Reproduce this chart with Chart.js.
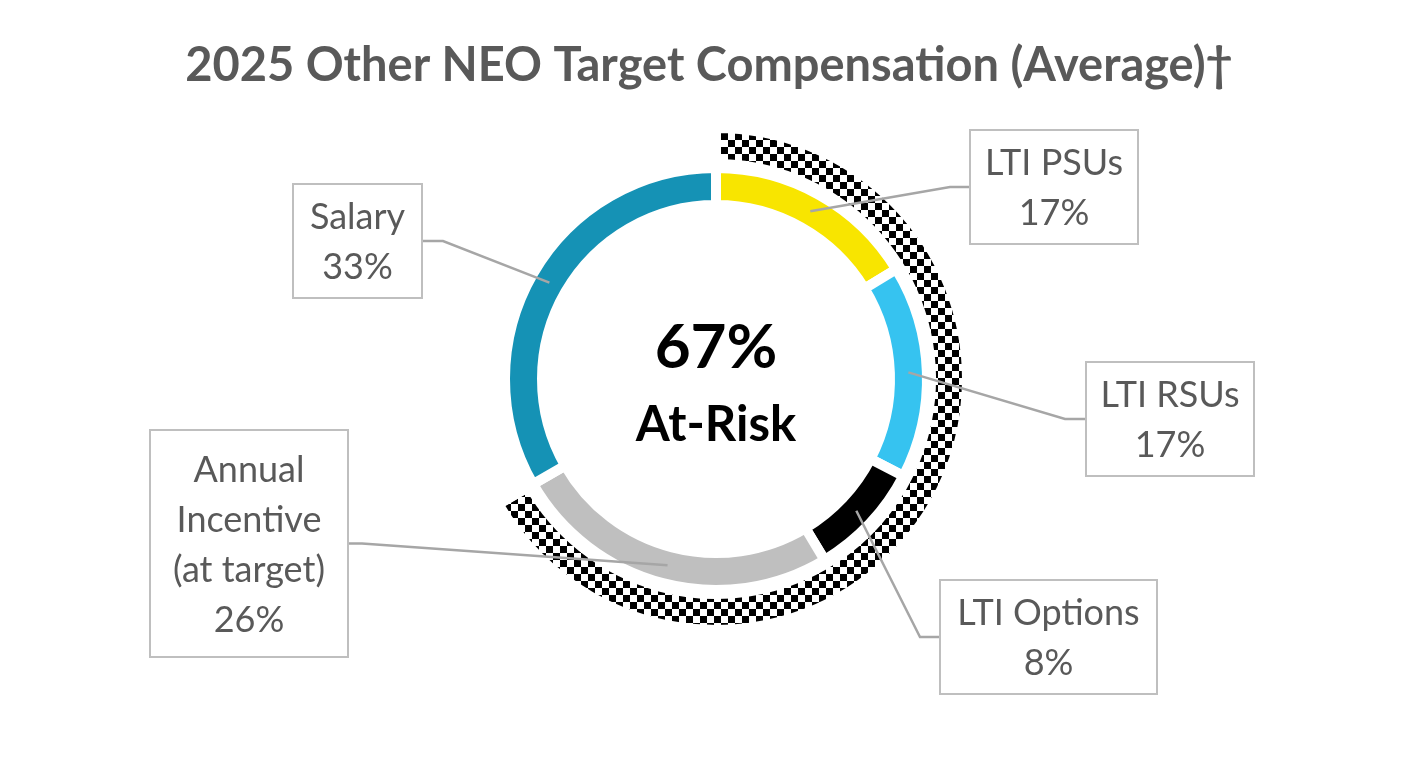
<!DOCTYPE html>
<html>
<head>
<meta charset="utf-8">
<title>2025 Other NEO Target Compensation</title>
<script src="https://cdn.jsdelivr.net/npm/chart.js@4.4.1/dist/chart.umd.min.js"></script>
<style>
  html, body { margin: 0; padding: 0; background: #fff; }
  #wrap { width: 1420px; height: 760px; }
</style>
</head>
<body>
<div id="wrap"><canvas id="chart" width="1420" height="760"></canvas></div>
<script>
// values
const categories = ['LTI PSUs', 'LTI RSUs', 'LTI Options', 'Annual Incentive (at target)', 'Salary'];
const shares = [16.3, 16.3, 8.8, 25.3, 33.3];
const shareLabels = ['17%', '17%', '8%', '26%', '33%'];
const labelLines = [['LTI PSUs'], ['LTI RSUs'], ['LTI Options'], ['Annual', 'Incentive', '(at target)'], ['Salary']];
const riskGroups = ['At-Risk', 'Fixed'];
const riskShares = [66.7, 33.3];
const centerValue = '67%';
const centerLabel = 'At-Risk';
const titleText = '2025 Other NEO Target Compensation (Average)\u2020';

const colors = ['#F8E500', '#36C3F0', '#000000', '#BFBFBF', '#1592B5'];
const textGrey = '#595959';

// label boxes (layout only)
const boxes = [
  { x: 970, y: 130, w: 168, h: 114, side: 'left', elbowX: 950 },
  { x: 1086, y: 362, w: 168, h: 114, side: 'left', elbowX: 1065 },
  { x: 940, y: 580, w: 217, h: 114, side: 'left', elbowX: 920 },
  { x: 150, y: 430, w: 198, h: 227, side: 'right', elbowX: 362 },
  { x: 293, y: 184, w: 129, h: 114, side: 'right', elbowX: 443 }
];

const canvas = document.getElementById('chart');
const ctx = canvas.getContext('2d');

// checkered fill for the at-risk ring
const sq = 7;
const tile = document.createElement('canvas');
tile.width = sq * 2;
tile.height = sq * 2;
const tctx = tile.getContext('2d');
tctx.fillStyle = '#fff';
tctx.fillRect(0, 0, sq * 2, sq * 2);
tctx.fillStyle = '#000';
tctx.fillRect(0, 0, sq, sq);
tctx.fillRect(sq, sq, sq, sq);
const checker = ctx.createPattern(tile, 'repeat');

const annotations = {
  id: 'annotations',
  afterDatasetsDraw(chart) {
    const c = chart.ctx;
    const meta = chart.getDatasetMeta(2);
    c.save();

    // title
    c.fillStyle = textGrey;
    c.font = 'bold 47px Lato';
    c.textAlign = 'center';
    c.textBaseline = 'alphabetic';
    c.fillText(titleText, 709, 81);

    // centre
    c.fillStyle = '#000';
    c.font = 'bold 62px Lato';
    c.fillText(centerValue, 716, 368);
    c.font = 'bold 49px Lato';
    c.fillText(centerLabel, 716, 441);

    // leader lines
    c.strokeStyle = '#A6A6A6';
    c.lineWidth = 2.5;
    meta.data.forEach((arc, i) => {
      const p = arc.tooltipPosition();
      const b = boxes[i];
      const cy = b.y + b.h / 2;
      const bx = b.side === 'left' ? b.x : b.x + b.w;
      c.beginPath();
      c.moveTo(p.x, p.y);
      c.lineTo(b.elbowX, cy);
      c.lineTo(bx, cy);
      c.stroke();
    });

    // boxes and text
    c.font = '36px Lato';
    boxes.forEach((b, i) => {
      c.fillStyle = '#fff';
      c.fillRect(b.x, b.y, b.w, b.h);
      c.strokeStyle = '#BFBFBF';
      c.lineWidth = 2;
      c.strokeRect(b.x, b.y, b.w, b.h);
      const lines = labelLines[i].concat([shareLabels[i]]);
      const cx = b.x + b.w / 2;
      const cy = b.y + b.h / 2;
      c.fillStyle = textGrey;
      lines.forEach((t, k) => {
        c.fillText(t, cx, cy + (k - (lines.length - 1) / 2) * 50 + 13);
      });
    });
    c.restore();
  }
};

new Chart(ctx, {
  type: 'doughnut',
  data: {
    labels: categories,
    datasets: [
      {
        label: 'At-risk pay',
        data: riskShares,
        backgroundColor: [checker, 'rgba(0,0,0,0)'],
        borderColor: '#ffffff',
        borderWidth: 10,
        hoverBorderWidth: 10,
        weight: 36
      },
      {
        label: 'gap',
        data: [100],
        backgroundColor: 'rgba(0,0,0,0)',
        borderWidth: 0,
        weight: 4
      },
      {
        label: 'Target mix',
        data: shares,
        backgroundColor: colors,
        borderColor: '#ffffff',
        borderWidth: 10,
        hoverBorderWidth: 10,
        weight: 37
      }
    ]
  },
  options: {
    responsive: false,
    animation: false,
    events: [],
    radius: 251,
    cutout: '69.32%',
    rotation: 0,
    layout: { padding: { left: 12, right: 0, top: 0, bottom: 2 } },
    plugins: {
      legend: { display: false },
      tooltip: { enabled: false },
      title: { display: false }
    }
  },
  plugins: [annotations]
});
</script>
</body>
</html>
